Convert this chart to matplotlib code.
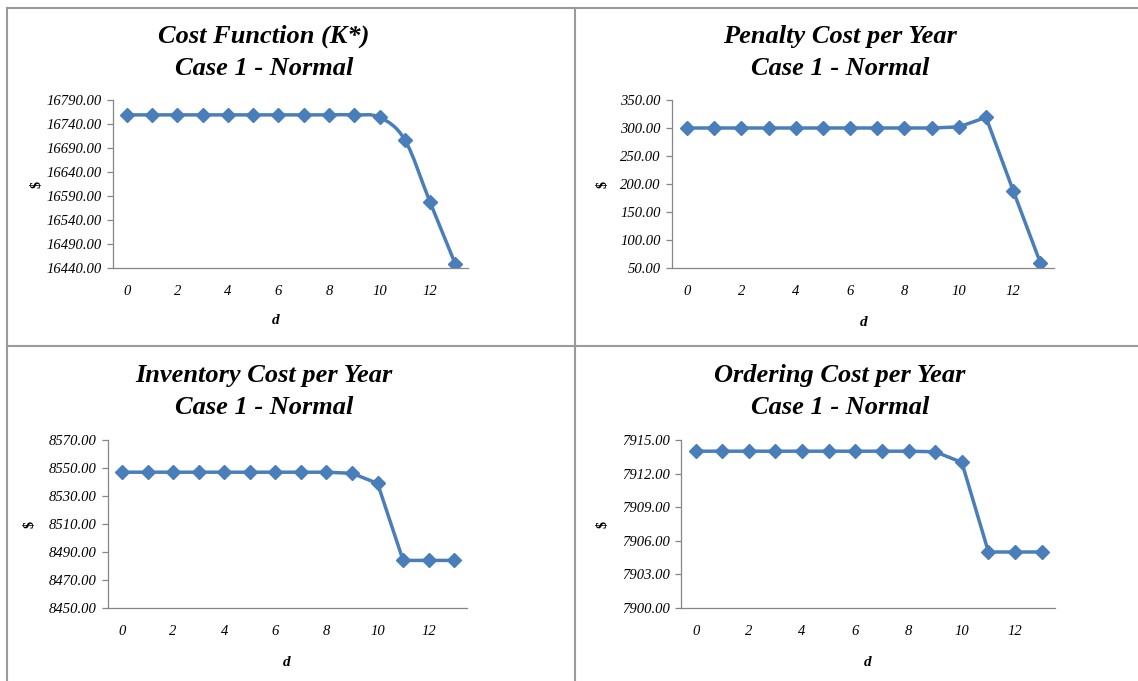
import numpy as np
import matplotlib
matplotlib.use('Agg')
import matplotlib.pyplot as plt
from matplotlib.path import Path
from matplotlib.patches import PathPatch
from matplotlib.lines import Line2D
from matplotlib.ticker import FormatStrFormatter

plt.rcParams['font.family'] = ['Liberation Serif', 'DejaVu Serif']

# data
d = list(range(14))
cost_k = [16759, 16759, 16759, 16759, 16759, 16759, 16759, 16759, 16759, 16759,
          16754, 16707, 16577, 16448]
penalty = [300, 300, 300, 300, 300, 300, 300, 300, 300, 300, 302, 319, 188, 59]
inventory = [8547, 8547, 8547, 8547, 8547, 8547, 8547, 8547, 8547, 8546.2,
             8539, 8484, 8484, 8484]
ordering = [7914, 7914, 7914, 7914, 7914, 7914, 7914, 7914, 7914, 7913.95,
            7913, 7905, 7905, 7905]

titles = ['Cost Function (K*)', 'Penalty Cost per Year',
          'Inventory Cost per Year', 'Ordering Cost per Year']
subtitle = 'Case 1 - Normal'
y_ranges = [(16440, 16790, 50), (50, 350, 50), (8450, 8570, 20), (7900, 7915, 3)]
series = [cost_k, penalty, inventory, ordering]
smooth = [True, False, False, False]

W, H = 1138, 681
fig = plt.figure(figsize=(W / 100, H / 100), dpi=100)

# pixel boxes of each plot area: left, top, right, bottom
boxes = [(113, 100, 468, 268), (672, 100, 1054, 268),
         (108, 440, 467, 608), (681, 440, 1055, 608)]
title_pos = [(264, 43), (840, 43), (264, 382), (840, 382)]
line_gap = 32
xlabel_pos = [(276, 320), (864, 323), (287, 662), (868, 662)]
ylabel_pos = [(37, 185), (603, 184), (30, 524), (603, 524)]

blue = '#4a7ebb'
grey = '#9a9a9a'


def px_axes(l, t, r, b):
    return [l / W, 1 - b / H, (r - l) / W, (b - t) / H]


def smooth_path(xs, ys):
    # catmull-rom through the points, drawn as cubic bezier segments
    xs = np.asarray(xs, float)
    ys = np.asarray(ys, float)
    pts = np.column_stack([xs, ys])
    verts = [pts[0]]
    codes = [Path.MOVETO]
    n = len(pts)
    for i in range(n - 1):
        p0 = pts[max(i - 1, 0)]
        p1 = pts[i]
        p2 = pts[i + 1]
        p3 = pts[min(i + 2, n - 1)]
        c1 = p1 + (p2 - p0) / 6
        c2 = p2 - (p3 - p1) / 6
        verts += [c1, c2, p2]
        codes += [Path.CURVE4] * 3
    return Path(verts, codes)


for i in range(4):
    l, t, r, b = boxes[i]
    ax = fig.add_axes(px_axes(l, t, r, b))
    ys = series[i]
    if smooth[i]:
        ax.add_patch(PathPatch(smooth_path(d, ys), fill=False, edgecolor=blue,
                               lw=2.5, capstyle='round', joinstyle='round'))
        ax.plot(d, ys, linestyle='none', marker='D', color=blue, markersize=7)
    else:
        ax.plot(d, ys, color=blue, lw=2.5, marker='D', markersize=7)

    lo, hi, step = y_ranges[i]
    ax.set_ylim(lo, hi)
    ax.set_yticks(np.arange(lo, hi + step / 2, step))
    ax.yaxis.set_major_formatter(FormatStrFormatter('%.2f'))
    ax.set_xlim(-0.55, 13.5)
    ax.set_xticks([0, 2, 4, 6, 8, 10, 12])

    for s in ['top', 'right']:
        ax.spines[s].set_visible(False)
    for s in ['left', 'bottom']:
        ax.spines[s].set_color('#868686')
        ax.spines[s].set_linewidth(0.9)
    ax.tick_params(axis='y', length=4, width=0.9, color='#868686', pad=4,
                   labelsize=10.5)
    ax.tick_params(axis='x', length=0, pad=12, labelsize=10.5)
    for lab in ax.get_xticklabels() + ax.get_yticklabels():
        lab.set_fontstyle('italic')

    tx, ty = title_pos[i]
    fig.text(tx / W, 1 - ty / H, titles[i], ha='center', va='baseline',
             fontsize=19, fontweight='bold', fontstyle='italic')
    fig.text(tx / W, 1 - (ty + line_gap) / H, subtitle, ha='center',
             va='baseline', fontsize=19, fontweight='bold', fontstyle='italic')
    fig.text(xlabel_pos[i][0] / W, 1 - xlabel_pos[i][1] / H, 'd',
             ha='center', va='center', fontsize=11, fontweight='bold',
             fontstyle='italic')
    fig.text(ylabel_pos[i][0] / W, 1 - ylabel_pos[i][1] / H, '$',
             ha='center', va='center', fontsize=10, fontweight='bold',
             rotation=90)

# panel borders
def hline(y, x0, x1):
    fig.add_artist(Line2D([x0 / W, x1 / W], [1 - y / H, 1 - y / H],
                          color=grey, lw=1.5))


def vline(x, y0, y1):
    fig.add_artist(Line2D([x / W, x / W], [1 - y0 / H, 1 - y1 / H],
                          color=grey, lw=1.5))


hline(7.5, 6.5, 1137)
hline(346.5, 6.5, 1137)
vline(6.5, 7.5, 681)
vline(574.7, 7.5, 681)

fig.savefig('out.png', dpi=100)
